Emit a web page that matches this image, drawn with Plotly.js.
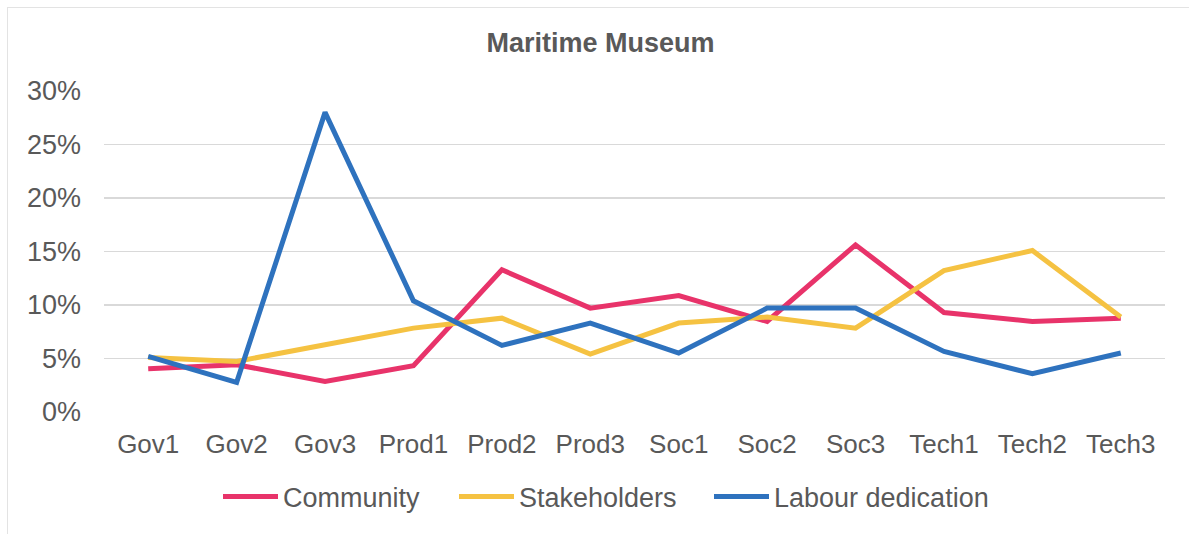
<!DOCTYPE html>
<html>
<head>
<meta charset="utf-8">
<script src="https://cdn.plot.ly/plotly-3.0.1.min.js"></script>
<style>
  html, body { margin: 0; padding: 0; background: #ffffff; }
  #chart { position: absolute; left: 0; top: 0; width: 1189px; height: 534px; }
  #frame { position: absolute; left: 7px; top: 7px; width: 1182px; height: 527px;
           border-top: 1px solid #e3e3e3; border-left: 1px solid #e3e3e3;
           pointer-events: none; z-index: 10; }
</style>
</head>
<body>
<div id="chart"></div>
<div id="frame"></div>
<script>
const categories = ["Gov1","Gov2","Gov3","Prod1","Prod2","Prod3","Soc1","Soc2","Soc3","Tech1","Tech2","Tech3"];
const community    = [0.0404, 0.0442, 0.0286, 0.0432, 0.1329, 0.0971, 0.1089, 0.0846, 0.1562, 0.0930, 0.0846, 0.0877];
const stakeholders = [0.0510, 0.0473, 0.0628, 0.0784, 0.0877, 0.0541, 0.0831, 0.0887, 0.0784, 0.1322, 0.1509, 0.0887];
const labour       = [0.0519, 0.0277, 0.2800, 0.1039, 0.0622, 0.0831, 0.0551, 0.0971, 0.0971, 0.0566, 0.0358, 0.0551];
const seriesNames  = ["Community", "Stakeholders", "Labour dedication"];
const yTickVals    = [0, 0.05, 0.10, 0.15, 0.20, 0.25, 0.30];

const colors = ["#E8336A", "#F5C242", "#2E72BE"];
const font = "'Liberation Sans', Arial, sans-serif";
const textColor = "#595959";
const legendIds = ["legend", "legend2", "legend3"];
const legendLeft = [223, 459, 714]; // px where each legend line begins

const traces = [community, stakeholders, labour].map((vals, i) => ({
  type: "scatter",
  mode: "lines",
  x: categories,
  y: vals,
  name: seriesNames[i],
  legend: legendIds[i],
  line: { color: colors[i], width: 5 },
  hoverinfo: "x+y+name"
}));

function legendAt(px) {
  return {
    orientation: "h",
    xref: "container", yref: "container",
    x: (px - 5) / 1189, xanchor: "left",
    y: 1 - 497 / 534, yanchor: "middle",
    font: { family: font, size: 27, color: textColor },
    itemwidth: 55,
    bgcolor: "rgba(0,0,0,0)",
    borderwidth: 0
  };
}

const layout = {
  width: 1189,
  height: 534,
  paper_bgcolor: "#ffffff",
  plot_bgcolor: "#ffffff",
  margin: { l: 103.5, r: 23.5, t: 91, b: 121.7, pad: 0 },
  font: { family: font, color: textColor, size: 26 },
  title: {
    text: "<b>Maritime Museum</b>",
    font: { family: font, size: 27, color: textColor },
    x: 0.505, xref: "container", xanchor: "center",
    y: 1 - 43 / 534, yref: "container", yanchor: "middle"
  },
  xaxis: {
    type: "category",
    range: [-0.5, categories.length - 0.5],
    showgrid: false,
    zeroline: false,
    showline: false,
    ticks: "",
    tickfont: { family: font, size: 26, color: textColor },
    ticklabelstandoff: 14,
    fixedrange: true
  },
  yaxis: {
    range: [0, 0.30],
    tickvals: yTickVals,
    tickformat: ".0%",
    showgrid: true,
    gridcolor: "#d9d9d9",
    gridwidth: 1.3,
    zeroline: false,
    showline: false,
    ticks: "",
    tickfont: { family: font, size: 27, color: textColor },
    ticklabelstandoff: 22,
    fixedrange: true
  },
  showlegend: true,
  legend: legendAt(legendLeft[0]),
  legend2: legendAt(legendLeft[1]),
  legend3: legendAt(legendLeft[2])
};

Plotly.newPlot("chart", traces, layout, { displayModeBar: false, staticPlot: true });
</script>
</body>
</html>
